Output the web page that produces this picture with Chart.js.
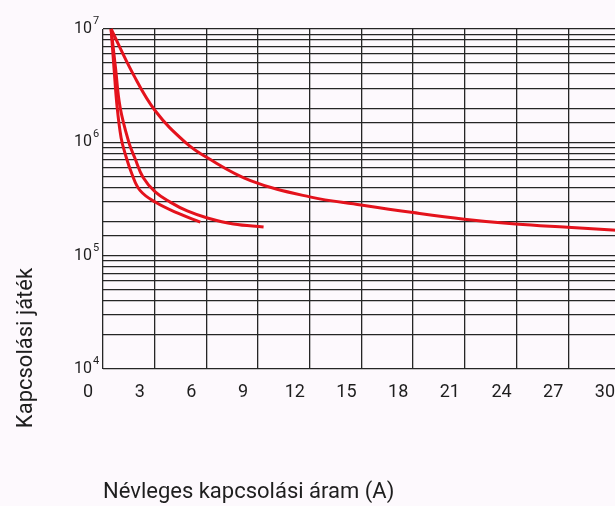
<!DOCTYPE html>
<html>
<head>
<meta charset="utf-8">
<script src="https://cdn.jsdelivr.net/npm/chart.js@4/dist/chart.umd.min.js"></script>
<style>
  html, body { margin: 0; padding: 0; background: #fdf9fd; overflow: hidden; }
  #wrap { width: 643px; height: 506px; }
</style>
</head>
<body>
<div id="wrap"><canvas id="lifeChart" width="643" height="506"></canvas></div>
<script>
// tick labels of the x axis (A)
const xTicks = [0, 3, 6, 9, 12, 15, 18, 21, 24, 27, 30];
// decade labels of the y axis
const yDecades = [1e4, 1e5, 1e6, 1e7];

// three life curves (x in A, y in switching cycles)
const curveInnerX = [0.47, 0.64, 0.82, 1.05, 1.28, 1.69, 2.16, 3.03, 4.31, 5.65];
const curveInnerY = [1e7, 4.5e6, 2.05e6, 1.1e6, 8.0e5, 5.2e5, 3.75e5, 2.97e5, 2.38e5, 1.98e5];

const curveMidX = [0.47, 0.73, 0.99, 1.50, 1.86, 2.33, 3.03, 3.90, 4.89, 6.06, 7.57, 9.32];
const curveMidY = [1e7, 4.5e6, 2.05e6, 1.0e6, 7.2e5, 4.9e5, 3.65e5, 2.97e5, 2.48e5, 2.15e5, 1.9e5, 1.79e5];

const curveLongX = [0.47, 1.75, 3.03, 4.78, 6.06, 8.56, 12.0, 14.97, 18.0, 20.97, 23.94, 26.97, 29.8];
const curveLongY = [1e7, 4.0e6, 1.9e6, 1.0e6, 7.3e5, 4.6e5, 3.3e5, 2.8e5, 2.4e5, 2.1e5, 1.9e5, 1.78e5, 1.68e5];

const RED = 'rgb(228, 18, 28)';
const GRID = '#262626';
const TEXT = '#1e1e1e';

function toPoints(xs, ys) {
    return xs.map((x, i) => ({ x: x, y: ys[i] }));
}

function curve(xs, ys) {
    return {
        data: toPoints(xs, ys),
        borderColor: RED,
        borderWidth: 3,
        pointRadius: 0,
        fill: false,
        tension: 0.4,
        clip: false
    };
}

// exponents next to the "10" labels, and both axis titles
const annotations = {
    id: 'annotations',
    afterDraw(chart) {
        const ctx = chart.ctx;
        const y = chart.scales.y;
        ctx.save();
        ctx.fillStyle = TEXT;
        ctx.font = '11px Roboto';
        ctx.textAlign = 'left';
        ctx.textBaseline = 'alphabetic';
        yDecades.forEach(v => {
            const py = y.getPixelForValue(v);
            ctx.fillText(String(Math.round(Math.log10(v))), 93, py - 5);
        });

        ctx.font = '22px Roboto';
        ctx.textAlign = 'left';
        ctx.fillText('Névleges kapcsolási áram (A)', 103, 498);

        ctx.translate(32, 348);
        ctx.rotate(-Math.PI / 2);
        ctx.textAlign = 'center';
        ctx.fillText('Kapcsolási játék', 0, 0);
        ctx.restore();
    }
};

const ctx = document.getElementById('lifeChart').getContext('2d');
new Chart(ctx, {
    type: 'line',
    data: {
        datasets: [
            curve(curveInnerX, curveInnerY),
            curve(curveMidX, curveMidY),
            curve(curveLongX, curveLongY)
        ]
    },
    options: {
        responsive: false,
        animation: false,
        layout: { padding: { top: 29, right: 12, left: 0, bottom: 0 } },
        plugins: {
            legend: { display: false },
            tooltip: { enabled: false }
        },
        scales: {
            x: {
                type: 'linear',
                min: xTicks[0],
                max: xTicks[xTicks.length - 1],
                afterBuildTicks: s => { s.ticks = xTicks.map(v => ({ value: v })); },
                afterFit: s => { s.height = 137; },
                border: { display: false },
                grid: { color: GRID, lineWidth: 1.3, drawTicks: false },
                ticks: {
                    color: TEXT,
                    font: { family: 'Roboto', size: 18 },
                    padding: 13,
                    labelOffset: -15,
                    maxRotation: 0,
                    autoSkip: false
                }
            },
            y: {
                type: 'logarithmic',
                min: yDecades[0],
                max: yDecades[yDecades.length - 1],
                afterFit: s => { s.width = 103; },
                border: { display: false },
                grid: { color: GRID, lineWidth: 1.3, drawTicks: false },
                ticks: {
                    color: TEXT,
                    font: { family: 'Roboto', size: 16 },
                    padding: 11,
                    autoSkip: false,
                    callback: v => yDecades.includes(v) ? '10' : ''
                }
            }
        }
    },
    plugins: [annotations]
});
</script>
</body>
</html>
